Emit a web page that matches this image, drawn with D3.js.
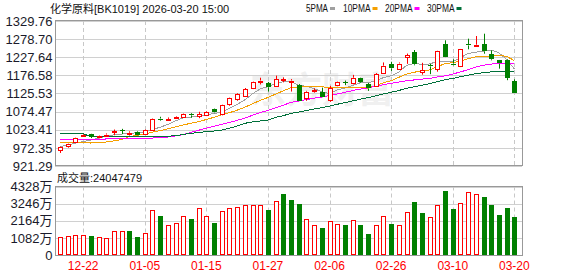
<!DOCTYPE html>
<html><head><meta charset="utf-8">
<script src="https://cdn.jsdelivr.net/npm/d3@7.9.0/dist/d3.min.js"></script>
<style>body{margin:0;background:#fff}svg{display:block}</style>
</head><body><svg id="chart" width="578" height="276"></svg>
<script>
// daily K-line, 化学原料 BK1019
const dates = ['12-17','12-18','12-19','12-22','12-23','12-24','12-25','12-26','12-29','12-30',
  '12-31','01-05','01-06','01-07','01-08','01-09','01-12','01-13','01-14','01-15',
  '01-16','01-19','01-20','01-21','01-22','01-23','01-26','01-27','01-28','01-29',
  '01-30','02-02','02-03','02-04','02-05','02-06','02-09','02-10','02-11','02-12',
  '02-13','02-24','02-25','02-26','02-27','03-02','03-03','03-04','03-05','03-06',
  '03-09','03-10','03-11','03-12','03-13','03-16','03-17','03-18','03-19','03-20'];
const opens = [966,978,987.5,1007,1011,1002,1008,1016,1022,1013,
  1018,1011,1022.7,1055,1051,1056,1059,1067,1063,1065,
  1081,1066.4,1095,1108,1118.5,1140,1158,1154,1146.7,1164,
  1160,1149.5,1114.8,1132,1129,1107.2,1148,1158,1156,1168,
  1151,1147.5,1185.3,1208,1196.5,1228,1242.4,1184,1205,1193.7,
  1264.1,1210,1203,1265,1261.5,1264.1,1236,1219,1219,1160.7];
const highs = [976,985,1001,1011,1012,1007,1013,1024,1026,1019,
  1020,1024,1055,1060,1058,1061,1069,1070,1074,1076,
  1083,1094,1114,1126,1141,1159,1170,1158,1176,1171,
  1166,1152,1133,1140,1142,1147,1159,1162,1178,1170,
  1155,1183,1213,1215,1213,1238,1248,1212,1209,1246,
  1275.4,1222,1251,1280,1287.5,1294,1247,1220,1222,1165.5];
const lows = [958,973,986,1004,1000,999,1006,1008,1011,1007,
  1008,1010,1021,1049,1050,1055,1057,1057,1056,1062,
  1070,1064,1091,1105,1116,1138,1151,1131,1144,1157,
  1131,1104,1105,1128,1115,1102,1146,1149,1151,1155,
  1133,1145,1185,1189,1194,1209,1205,1178.5,1180,1187,
  1228,1205,1200,1250,1261,1237.6,1219,1195.5,1163,1127.8];
const closes = [975,984,1000,1009,1003,1005,1010,1019,1020,1015,
  1009,1022.7,1053.7,1052,1054,1059,1066.5,1064,1068,1074,
  1071.5,1092.3,1112.9,1123.3,1138.2,1157,1162,1143,1166.4,1165,
  1162,1105.3,1130.6,1135,1116,1140.2,1157,1156,1170,1157,
  1140,1180.5,1203.9,1196.5,1210,1233,1207.8,1190.9,1202,1245.3,
  1228.4,1207,1250,1261,1263,1244.4,1222,1209.5,1169,1127.8];
const prevClose = 960;
// volume, 万
const volumes = [1113,1176,1239,1239,1197,1113,1050,1512,1512,1533,
  1134,1386,2814,2457,1869,2016,2436,2268,2940,2436,
  2037,2751,2940,3003,3129,3129,3129,2835,3381,3843,
  3465,3234,2247,1869,1701,2121,1953,1890,2184,1890,
  1323,1890,2436,1953,1869,2688,3339,2646,2373,3129,
  4032,2898,3255,4011,3843,3654,3171,2520,2961,2404.7479];

// MA values before the window is full
const ma5Head = [976,980,986,990];
const ma10Head = [987,987,987,987,986,987.5,989,992,996];
const ma20Head = [996.5,996.5,996.5,996.5,996.5,996.5,997.4,997.4,997.4,997.4,
  998,999,1000,1001,1003,1006,1010,1016,1022];
const ma30Head = [1013,1013,1013,1013,1003,1003,1003,1003,1003,1003,
  1003,1003,1003,1004,1005,1007,1010,1013.4,1015.7,1018,
  1019.9,1022.7,1027.5,1034,1041.6,1045.3,1048.1,1050.9,1058.5];

const priceTicks = [921.29,972.35,1023.41,1074.47,1125.53,1176.58,1227.64,1278.70,1329.76];
const volTicks = [0,1082,2164,3246,4328];
const dateTicks = ['12-22','01-05','01-15','01-27','02-06','02-26','03-10','03-20'];

const maDefs = [
  {name:'5PMA', n:5, head:ma5Head, color:'#a0a0a0'},
  {name:'10PMA', n:10, head:ma10Head, color:'#f5a000'},
  {name:'20PMA', n:20, head:ma20Head, color:'#ff00ff'},
  {name:'30PMA', n:30, head:ma30Head, color:'#00703a'}
];

const RED = '#ff0000', GREEN = '#008000';
const L = 55, R = 522, PT = 21, PB = 166, VT = 186.5, VB = 255;
const svg = d3.select('#chart');
const fontNum = "'Liberation Sans', Arial, sans-serif";
const fontCn = "'Liberation Sans', 'Noto Sans CJK SC', sans-serif";

const idx = d3.range(dates.length);
const x = d3.scaleBand().domain(idx).range([56.2, 518.2]).paddingInner(0.35).paddingOuter(0.175);
const cx = i => x(i) + x.bandwidth() / 2;
const y = d3.scaleLinear().domain([921.29, 1329.76]).range([PB, PT]);
const yv = d3.scaleLinear().domain([0, 4328]).range([VB, VT]);
const px = v => Math.round(v) + 0.5;

// watermark
svg.append('text').attr('x', 250).attr('y', 103)
  .attr('font-family', "'Noto Sans CJK SC', sans-serif").attr('font-size', 36)
  .attr('font-weight', 'bold').attr('fill', '#f0f0f0').text('东方财富');

// grids
function grid(top, bottom, ticks, scale) {
  const g = svg.append('g');
  g.selectAll('line.h').data(ticks).enter().append('line')
    .attr('x1', L).attr('x2', R)
    .attr('y1', d => px(scale(d))).attr('y2', d => px(scale(d)))
    .attr('stroke', '#d0d0d0');
  g.selectAll('line.v').data(dateTicks).enter().append('line')
    .attr('x1', d => px(cx(dates.indexOf(d)))).attr('x2', d => px(cx(dates.indexOf(d))))
    .attr('y1', top).attr('y2', bottom)
    .attr('stroke', '#c8c8c8').attr('stroke-dasharray', '4,3');
  g.append('rect').attr('x', L + 0.5).attr('y', px(top) - 1).attr('width', R - L)
    .attr('height', Math.round(bottom - top)).attr('fill', 'none').attr('stroke', '#999');
}
grid(PT, PB, priceTicks, y);
grid(VT, VB, volTicks, yv);

// axes
svg.append('g').attr('transform', `translate(${L},0)`)
  .call(d3.axisLeft(y).tickValues(priceTicks).tickSize(0).tickPadding(2.5).tickFormat(d => d.toFixed(2)))
  .call(g => g.select('.domain').remove())
  .selectAll('text').attr('font-family', fontNum).attr('font-size', 13).attr('fill', '#1a1a2a');
svg.append('g').attr('transform', `translate(${L},0)`)
  .call(d3.axisLeft(yv).tickValues(volTicks).tickSize(0).tickPadding(2.5).tickFormat(d => d ? d + '万' : '0'))
  .call(g => g.select('.domain').remove())
  .selectAll('text').attr('font-family', fontCn).attr('font-size', 13).attr('fill', '#1a1a2a');
svg.append('g').selectAll('text').data(dateTicks).enter().append('text')
  .attr('x', d => cx(dates.indexOf(d))).attr('y', 270)
  .attr('text-anchor', 'middle').attr('font-family', fontNum).attr('font-size', 12)
  .attr('fill', RED).text(d => d);

// moving averages
const maLine = d3.line().x((d, i) => cx(i)).y(d => y(d));
maDefs.forEach(m => {
  const vals = closes.map((c, i) => i < m.head.length ? m.head[i] : d3.mean(closes.slice(i - m.n + 1, i + 1)));
  svg.append('path').attr('d', maLine(vals)).attr('fill', 'none')
    .attr('stroke', m.color).attr('stroke-width', 1).attr('shape-rendering', 'crispEdges');
});

// candles
const candles = svg.append('g');
idx.forEach(i => {
  const up = closes[i] >= opens[i];
  const col = up ? RED : GREEN;
  const c = px(cx(i));
  const top = y(Math.max(opens[i], closes[i])), bot = y(Math.min(opens[i], closes[i]));
  candles.append('line').attr('x1', c).attr('x2', c).attr('y1', y(highs[i])).attr('y2', top).attr('stroke', col);
  candles.append('line').attr('x1', c).attr('x2', c).attr('y1', bot).attr('y2', y(lows[i])).attr('stroke', col);
  const h = Math.max(1, bot - top);
  if (up) {
    candles.append('rect').attr('x', c - 2).attr('y', Math.round(top) + 0.5).attr('width', 4)
      .attr('height', Math.max(1, Math.round(h))).attr('fill', '#fff').attr('stroke', col);
  } else {
    candles.append('rect').attr('x', c - 2.5).attr('y', Math.round(top)).attr('width', 5)
      .attr('height', Math.max(1, Math.round(h))).attr('fill', col);
  }
});

// volume bars (colour vs previous close)
const vbars = svg.append('g');
idx.forEach(i => {
  const up = closes[i] >= (i ? closes[i - 1] : prevClose);
  const c = px(cx(i));
  const t = Math.round(yv(volumes[i]));
  if (up) {
    vbars.append('rect').attr('x', c - 2).attr('y', t + 0.5).attr('width', 4)
      .attr('height', VB - t - 1).attr('fill', '#fff').attr('stroke', RED);
  } else {
    vbars.append('rect').attr('x', c - 2.5).attr('y', t).attr('width', 5)
      .attr('height', VB - t).attr('fill', GREEN);
  }
});

// title + legend
svg.append('text').attr('x', 50).attr('y', 13).attr('font-family', fontCn).attr('font-size', 11)
  .attr('fill', '#111').text('化学原料[BK1019] 2026-03-20 15:00');
const legX = [306, 343, 385, 427];
maDefs.forEach((m, k) => {
  svg.append('text').attr('x', legX[k]).attr('y', 12).attr('font-family', fontNum).attr('font-size', 11)
    .attr('textLength', m.name.length * 5.5).attr('lengthAdjust', 'spacingAndGlyphs')
    .attr('fill', '#111').text(m.name);
  svg.append('rect').attr('x', legX[k] + m.name.length * 5.5 + 2).attr('y', 7).attr('width', 5).attr('height', 3)
    .attr('fill', m.color);
});
svg.append('text').attr('x', 57).attr('y', 181.5).attr('font-family', fontCn).attr('font-size', 11)
  .attr('fill', '#111').text('成交量:' + Math.round(volumes[volumes.length - 1] * 10000));
</script>
</body></html>
